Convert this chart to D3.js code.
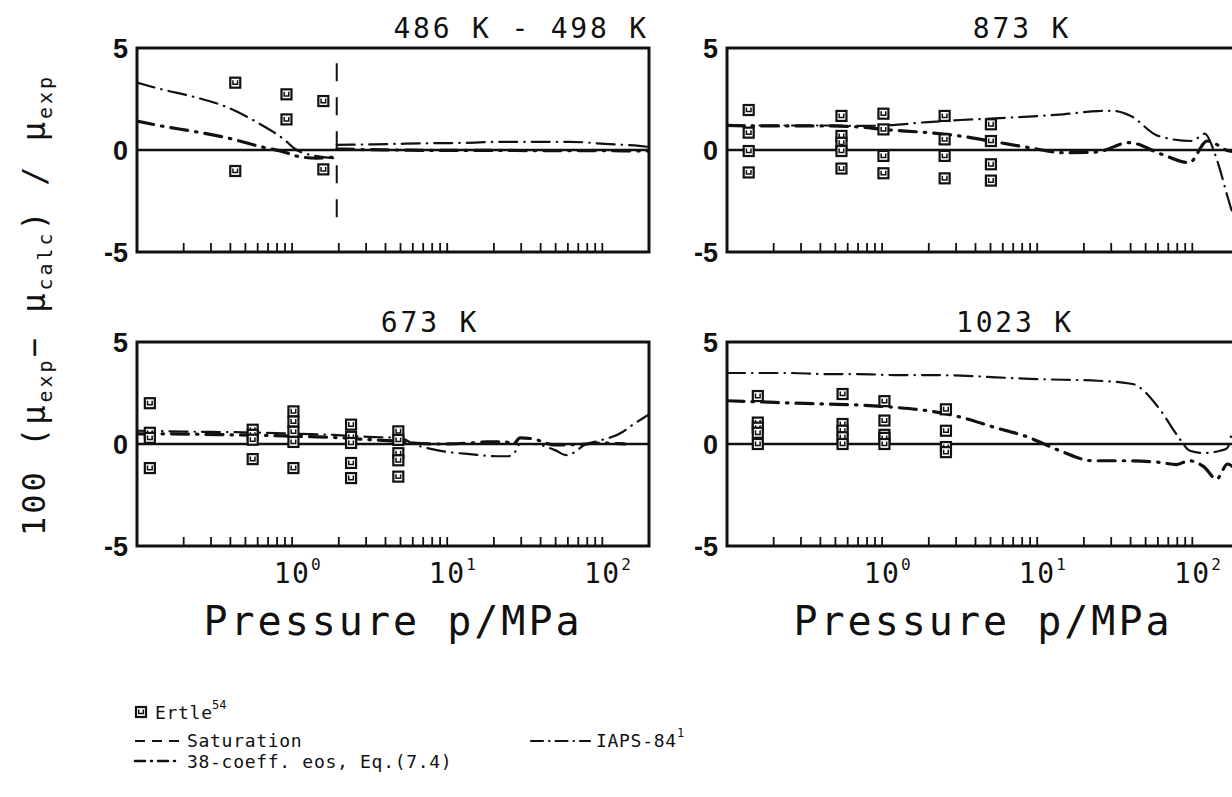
<!DOCTYPE html>
<html>
<head>
<meta charset="utf-8">
<script src="https://cdn.jsdelivr.net/npm/d3@7"></script>
<style>
  body { margin: 0; background: #fff; }
  svg text { font-family: "DejaVu Sans Mono", monospace; fill: #111; }
  .leg { font-size: 18px; letter-spacing: 0.7px; }
</style>
</head>
<body>
<svg width="1232" height="797"></svg>
<script>
// minor ticks of the log pressure axis (MPa)
var minorTicks = [0.2, 0.3, 0.4, 0.5, 0.6, 0.7, 0.8, 0.9, 1,
                  2, 3, 4, 5, 6, 7, 8, 9, 10,
                  20, 30, 40, 50, 60, 70, 80, 90, 100];
var decadeTicks = [1, 10, 100];
var decadeExp = ["0", "1", "2"];
var yTicks = [5, 0, -5];
var yTickText = ["5", "0", "-5"];

// ---- 486 K - 498 K
var ertle486P = [0.43, 0.43, 0.92, 0.92, 1.59, 1.59];
var ertle486D = [3.3, -1.03, 2.73, 1.5, 2.4, -0.95];
var sat486P = 1.94;
var sat486D = [-3.45, 4.25];
var iaps486GasP = [0.1, 0.143, 0.234, 0.38, 0.59, 0.92, 1.04, 1.44, 1.85];
var iaps486GasD = [3.3, 2.98, 2.6, 2.1, 1.37, 0.42, 0.06, -0.3, -0.4];
var c38486GasP = [0.1, 0.143, 0.237, 0.394, 0.637, 0.92, 1.04, 1.44, 1.85];
var c38486GasD = [1.42, 1.18, 0.9, 0.57, 0.15, -0.13, -0.28, -0.4, -0.35];
var iaps486LiqP = [1.94, 2.88, 4.72, 7.85, 13.0, 21.7, 36.8, 61.9, 104, 173, 200];
var iaps486LiqD = [0.25, 0.27, 0.3, 0.33, 0.35, 0.4, 0.4, 0.4, 0.3, 0.2, 0.15];
var c38486LiqP = [1.94, 2.88, 4.72, 7.85, 13.0, 21.7, 36.8, 61.9, 104, 173, 200];
var c38486LiqD = [0.05, 0.02, 0.0, -0.02, -0.02, -0.02, -0.03, -0.03, -0.03, -0.05, -0.05];

// ---- 873 K
var ertle873P = [0.138, 0.138, 0.138, 0.138,
                 0.547, 0.547, 0.547, 0.547, 0.547,
                 1.02, 1.02, 1.02, 1.02,
                 2.53, 2.53, 2.53, 2.53,
                 5.03, 5.03, 5.03, 5.03];
var ertle873D = [1.96, 0.85, -0.05, -1.1,
                 1.67, 0.69, 0.35, -0.05, -0.91,
                 1.78, 1.01, -0.29, -1.14,
                 1.67, 0.52, -0.29, -1.39,
                 1.26, 0.44, -0.7, -1.5];
var c38873P = [0.1, 0.153, 0.256, 0.428, 0.708, 1.01, 1.98, 3.15, 4.99, 8.81, 14.4, 24, 39.1, 63.5, 95.5, 125, 173, 200];
var c38873D = [1.21, 1.18, 1.18, 1.18, 1.13, 1.01, 0.85, 0.69, 0.44, 0.12, -0.13, -0.1, 0.36, -0.21, -0.62, 0.44, -0.05, -0.1];
var iaps873P = [0.1, 0.153, 0.256, 0.428, 0.708, 1.01, 1.98, 3.23, 4.99, 8.81, 14.7, 24.7, 30.6, 40.1, 60.2, 100, 120, 140, 150, 167, 180, 200];
var iaps873D = [1.21, 1.2, 1.2, 1.2, 1.18, 1.2, 1.37, 1.47, 1.54, 1.64, 1.75, 1.91, 1.92, 1.67, 0.69, 0.44, 0.8, -0.2, -0.9, -2.17, -3.0, -4.0];

// ---- 673 K
var ertle673P = [0.121, 0.121, 0.121, 0.121,
                 0.557, 0.557, 0.557, 0.557,
                 1.02, 1.02, 1.02, 1.02, 1.02,
                 2.40, 2.40, 2.40, 2.40, 2.40,
                 4.84, 4.84, 4.84, 4.84, 4.84];
var ertle673D = [2.0, 0.55, 0.3, -1.18,
                 0.7, 0.45, 0.21, -0.74,
                 1.6, 1.1, 0.6, 0.1, -1.18,
                 0.95, 0.35, 0.05, -0.93, -1.67,
                 0.62, 0.2, -0.45, -0.8, -1.6];
var c38673P = [0.1, 0.144, 0.243, 0.408, 0.669, 1.10, 1.85, 3.10, 4.96, 6.05, 8.55, 14.0, 18.0, 23.6, 26.7, 29.5, 35.9, 49.5, 79.2, 94.2, 140];
var c38673D = [0.5, 0.5, 0.48, 0.45, 0.42, 0.38, 0.32, 0.22, 0.12, 0.05, 0.0, 0.05, 0.1, 0.1, 0.0, 0.3, 0.25, -0.05, 0.0, 0.05, 0.0];
var iaps673P = [0.1, 0.144, 0.243, 0.408, 0.669, 1.10, 1.85, 3.10, 4.96, 6.05, 8.55, 14.0, 21.4, 24.5, 26.7, 29.5, 35.9, 49.5, 58.9, 79.2, 94.2, 136, 151, 200];
var iaps673D = [0.65, 0.63, 0.6, 0.58, 0.55, 0.5, 0.45, 0.35, 0.3, 0.0, -0.3, -0.5, -0.6, -0.6, -0.5, 0.0, 0.0, -0.3, -0.55, 0.0, 0.15, 0.6, 0.85, 1.45];

// ---- 1023 K
var ertle1023P = [0.158, 0.158, 0.158, 0.158, 0.158,
                  0.556, 0.556, 0.556, 0.556, 0.556,
                  1.035, 1.035, 1.035, 1.035, 1.035,
                  2.58, 2.58, 2.58, 2.58];
var ertle1023D = [2.35, 1.05, 0.8, 0.55, 0.0,
                  2.45, 0.98, 0.65, 0.33, 0.0,
                  2.1, 1.15, 0.45, 0.3, 0.0,
                  1.7, 0.65, -0.15, -0.4];
var iaps1023P = [0.1, 0.153, 0.254, 0.424, 0.708, 1.19, 1.93, 3.23, 5.41, 9.03, 14.7, 24.7, 41.2, 60.3, 80.3, 96.6, 118, 151, 168, 180];
var iaps1023D = [3.48, 3.48, 3.48, 3.43, 3.43, 3.38, 3.38, 3.35, 3.27, 3.19, 3.15, 3.10, 2.94, 1.80, 0.41, -0.33, -0.44, -0.33, -0.2, 0.6];
var c381023P = [0.1, 0.157, 0.26, 0.43, 0.708, 1.19, 1.97, 3.23, 5.28, 8.77, 14.0, 22.7, 37.2, 61.7, 79, 95, 118, 143.6, 168.6, 200];
var c381023D = [2.12, 2.07, 2.01, 1.96, 1.91, 1.80, 1.63, 1.31, 0.82, 0.33, -0.33, -0.82, -0.82, -0.9, -1.01, -0.82, -1.1, -1.72, -0.98, -1.5];

var svg = d3.select("svg");
var PW = 512, PH = 204;

var panels = [
  { left: 137, top: 48, title: "486 K - 498 K", titleX: 649, anchor: "end", xlabels: false,
    ertle: [ertle486P, ertle486D],
    iaps: [[iaps486GasP, iaps486GasD], [iaps486LiqP, iaps486LiqD]],
    c38: [[c38486GasP, c38486GasD], [c38486LiqP, c38486LiqD]],
    sat: true },
  { left: 727, top: 48, title: "873 K", titleX: 1022, anchor: "middle", xlabels: false,
    ertle: [ertle873P, ertle873D],
    iaps: [[iaps873P, iaps873D]],
    c38: [[c38873P, c38873D]] },
  { left: 137, top: 342, title: "673 K", titleX: 430, anchor: "middle", xlabels: true,
    ertle: [ertle673P, ertle673D],
    iaps: [[iaps673P, iaps673D]],
    c38: [[c38673P, c38673D]] },
  { left: 727, top: 342, title: "1023 K", titleX: 1015, anchor: "middle", xlabels: true,
    ertle: [ertle1023P, ertle1023D],
    iaps: [[iaps1023P, iaps1023D]],
    c38: [[c381023P, c381023D]] }
];

function styleIaps(sel) {
  return sel.attr("fill", "none").attr("stroke", "#111").attr("stroke-width", 2.2)
    .attr("stroke-linecap", "round").attr("stroke-dasharray", "18,7,0.5,7");
}
function styleC38(sel) {
  return sel.attr("fill", "none").attr("stroke", "#111").attr("stroke-width", 3.2)
    .attr("stroke-linecap", "round").attr("stroke-dasharray", "17,8,1.5,8");
}
function drawErtle(g, x, y) {
  var m = g.append("g").attr("transform", "translate(" + x + "," + y + ")");
  m.append("rect").attr("x", -5).attr("y", -5).attr("width", 10).attr("height", 10)
    .attr("fill", "#fff").attr("stroke", "#111").attr("stroke-width", 2.2);
  m.append("path").attr("d", "M-2.3,-2.5V1.6H2.3V-2.5")
    .attr("fill", "none").attr("stroke", "#111").attr("stroke-width", 1.5);
}

panels.forEach(function (p, i) {
  var x = d3.scaleLog().domain([0.1, 200]).range([p.left, p.left + PW]);
  var y = d3.scaleLinear().domain([-5, 5]).range([p.top + PH, p.top]);
  var g = svg.append("g");

  g.append("clipPath").attr("id", "clip" + i)
    .append("rect").attr("x", p.left).attr("y", p.top).attr("width", PW).attr("height", PH);

  // zero line
  g.append("line")
    .attr("x1", p.left).attr("x2", p.left + PW)
    .attr("y1", y(0)).attr("y2", y(0))
    .attr("stroke", "#111").attr("stroke-width", 2.6);

  // minor ticks pointing up from the bottom frame
  g.selectAll(".tick").data(minorTicks).enter().append("line")
    .attr("x1", function (d) { return x(d); })
    .attr("x2", function (d) { return x(d); })
    .attr("y1", p.top + PH).attr("y2", p.top + PH - 9)
    .attr("stroke", "#111").attr("stroke-width", 1.8);

  var line = d3.line()
    .x(function (d) { return x(d[0]); })
    .y(function (d) { return y(d[1]); })
    .curve(d3.curveMonotoneX);
  var lines = g.append("g").attr("clip-path", "url(#clip" + i + ")");

  p.c38.forEach(function (s) {
    styleC38(lines.append("path").attr("d", line(d3.zip(s[0], s[1]))));
  });
  p.iaps.forEach(function (s) {
    styleIaps(lines.append("path").attr("d", line(d3.zip(s[0], s[1]))));
  });

  if (p.sat) {
    lines.append("line")
      .attr("x1", x(sat486P)).attr("x2", x(sat486P))
      .attr("y1", y(sat486D[1])).attr("y2", y(sat486D[0]))
      .attr("stroke", "#111").attr("stroke-width", 2)
      .attr("stroke-dasharray", "18,16");
  }

  d3.zip(p.ertle[0], p.ertle[1]).forEach(function (d) {
    drawErtle(g, x(d[0]), y(d[1]));
  });

  // frame
  g.append("rect")
    .attr("x", p.left).attr("y", p.top).attr("width", PW).attr("height", PH)
    .attr("fill", "none").attr("stroke", "#111").attr("stroke-width", 3);

  // y tick labels
  yTicks.forEach(function (v, k) {
    g.append("text")
      .attr("x", p.left - 9).attr("y", y(v) + 10)
      .attr("text-anchor", "end")
      .style("font-family", "'Liberation Sans', Arial, sans-serif")
      .style("font-weight", "bold")
      .style("font-size", "27px")
      .text(yTickText[k]);
  });

  // title
  g.append("text")
    .attr("x", p.titleX).attr("y", p.top - 10)
    .attr("text-anchor", p.anchor)
    .style("font-size", "28px").style("letter-spacing", "2.8px")
    .text(p.title);

  if (p.xlabels) {
    decadeTicks.forEach(function (v, k) {
      g.append("text")
        .attr("x", x(v)).attr("y", p.top + PH + 37)
        .attr("text-anchor", "middle")
        .style("font-size", "28px").style("letter-spacing", "1.5px")
        .text("10");
      g.append("text")
        .attr("x", x(v) + 19).attr("y", p.top + PH + 24)
        .style("font-size", "16px")
        .text(decadeExp[k]);
    });
    g.append("text")
      .attr("x", p.left + PW / 2).attr("y", 635)
      .attr("text-anchor", "middle")
      .style("font-size", "40px").style("letter-spacing", "3px")
      .text("Pressure p/MPa");
  }
});

// y axis title
var yl = svg.append("text")
  .attr("transform", "translate(45,305) rotate(-90)")
  .attr("text-anchor", "middle")
  .style("font-size", "32px").style("letter-spacing", "3px");
yl.append("tspan").text("100 (μ");
yl.append("tspan").attr("dy", 7).style("font-size", "20px").text("exp");
yl.append("tspan").attr("dy", -7).text("− μ");
yl.append("tspan").attr("dy", 7).style("font-size", "20px").text("calc");
yl.append("tspan").attr("dy", -7).text(") / μ");
yl.append("tspan").attr("dy", 7).style("font-size", "20px").text("exp");

// legend
var lg = svg.append("g");
drawErtle(lg, 141, 712);
lg.append("text").attr("class", "leg").attr("x", 155).attr("y", 719).text("Ertle");
lg.append("text").attr("x", 212).attr("y", 709).style("font-size", "12px").text("54");

lg.append("line").attr("x1", 135).attr("x2", 180).attr("y1", 741).attr("y2", 741)
  .attr("stroke", "#111").attr("stroke-width", 2).attr("stroke-dasharray", "10,7");
lg.append("text").attr("class", "leg").attr("x", 187).attr("y", 747).text("Saturation");

styleC38(lg.append("path").attr("d", "M135,761H180")).attr("stroke-width", 2.6)
  .attr("stroke-dasharray", "10,6,1,6");
lg.append("text").attr("class", "leg").attr("x", 187).attr("y", 768).text("38-coeff. eos, Eq.(7.4)");

styleIaps(lg.append("path").attr("d", "M531,741H590")).attr("stroke-dasharray", "12,6,0.5,6");
lg.append("text").attr("class", "leg").attr("x", 596).attr("y", 747).text("IAPS-84");
lg.append("text").attr("x", 677).attr("y", 737).style("font-size", "12px").text("1");
</script>
</body>
</html>
